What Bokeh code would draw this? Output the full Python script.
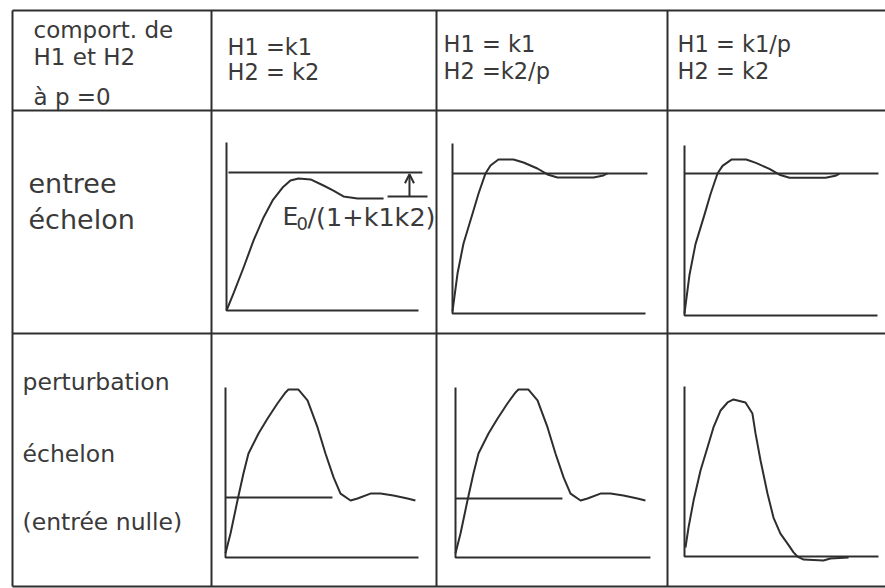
from bokeh.plotting import figure
from bokeh.models import Range1d, Arrow, OpenHead
from bokeh.embed import file_html
from bokeh.resources import INLINE
from bokeh.core.properties import value

# ---------------- texts ----------------
corner_lines = ["comport.  de", "H1  et H2", "à p =0"]
col_headers = [["H1 =k1", "H2 = k2"], ["H1 = k1", "H2 =k2/p"], ["H1 = k1/p", "H2 = k2"]]
row1_label = ["entree", "échelon"]
row2_label = ["perturbation", "échelon", "(entrée nulle)"]
annot_parts = ["E", "0", "/(1+k1k2)"]

# ---------------- curves ----------------
# time measured on 0..10 of each time axis, amplitude on 0..10 of each vertical axis
# row 1 : step input, H1=k1, H2=k2 (static error)
r1c1_t = [0, 0.36, 0.89, 1.41, 1.93, 2.40, 2.92, 3.33, 3.75, 4.38, 5.05, 5.57, 6.09, 6.82, 8.18]
r1c1_y = [0, 1.01, 2.56, 4.17, 5.54, 6.55, 7.32, 7.74, 7.86, 7.80, 7.44, 7.14, 6.79, 6.67, 6.67]
r1c1_ref = 8.21
r1c1_final = 6.79
# row 1 : step input, H1=k1, H2=k2/p
r1c2_t = [0, 0.26, 0.57, 1.04, 1.35, 1.71, 1.97, 2.38, 3.16, 3.68, 4.40, 4.92, 5.44, 7.31, 7.82, 8.03]
r1c2_y = [0.12, 2.35, 4.12, 5.88, 7.06, 8.24, 8.71, 9.06, 9.06, 8.88, 8.53, 8.18, 8.00, 8.00, 8.12, 8.24]
r1c2_ref = 8.24
# row 1 : step input, H1=k1/p, H2=k2
r1c3_t = [0, 0.26, 0.57, 1.04, 1.35, 1.71, 1.97, 2.45, 3.20, 3.70, 4.40, 4.92, 5.44, 7.31, 7.82, 8.03]
r1c3_y = [0.12, 2.40, 4.20, 5.95, 7.15, 8.35, 8.80, 9.18, 9.18, 8.98, 8.62, 8.28, 8.10, 8.10, 8.22, 8.35]
r1c3_ref = 8.35
# row 2 : step disturbance, zero input
r2c1_t = [0, 0.26, 0.62, 0.93, 1.19, 1.71, 2.18, 2.69, 3.11, 3.26, 3.78, 4.25, 4.77, 5.18, 5.60,
          5.96, 6.48, 6.84, 7.51, 8.03, 8.70, 9.43, 9.84]
r2c1_y = [0.25, 1.41, 3.35, 4.94, 6.12, 7.29, 8.18, 9.06, 9.71, 9.88, 9.88, 9.24, 7.65, 6.12, 4.71,
          3.76, 3.35, 3.47, 3.76, 3.76, 3.65, 3.47, 3.35]
r2c1_ref = 3.53
r2c2_t = [0, 0.26, 0.62, 0.93, 1.19, 1.71, 2.18, 2.69, 3.11, 3.26, 3.78, 4.25, 4.77, 5.18, 5.60,
          5.96, 6.48, 6.84, 7.51, 8.03, 8.70, 9.43, 9.84]
r2c2_y = [0.25, 1.41, 3.35, 4.94, 6.12, 7.29, 8.18, 9.06, 9.71, 9.88, 9.88, 9.24, 7.65, 6.12, 4.71,
          3.76, 3.35, 3.47, 3.76, 3.76, 3.65, 3.47, 3.35]
r2c2_ref = 3.47
r2c3_t = [0.05, 0.21, 0.47, 0.83, 1.19, 1.50, 1.87, 2.23, 2.54, 3.16, 3.52, 3.68, 3.94, 4.30, 4.61,
          4.97, 5.34, 5.65, 5.85, 6.17, 7.20, 7.56, 8.50]
r2c3_y = [0.53, 1.71, 3.29, 5.06, 6.41, 7.59, 8.59, 9.06, 9.24, 9.06, 8.41, 7.24, 5.65, 3.71, 2.29,
          1.35, 0.76, 0.24, 0.00, -0.18, -0.24, -0.12, -0.06]

# ---------------- layout ----------------
W, H = 885, 588
INK = "#2e2e2e"
TXT = "#3a3a3a"
FONT = value("DejaVu Sans")
DY = -7  # baseline correction for text placement

col_x = [12, 211, 436, 667, 890]
row_y = [10, 110, 333, 586]

# axis box of each small chart: origin x, origin y, width, height (pixels)
box = {
    "r1c1": (226, 310, 192, 168),
    "r1c2": (452, 313, 193, 170),
    "r1c3": (684, 315, 193, 170),
    "r2c1": (225, 557, 193, 170),
    "r2c2": (455, 557, 193, 170),
    "r2c3": (684, 556, 193, 170),
}
xaxis_len = {"r1c1": 10.0, "r1c2": 10.0, "r1c3": 10.0, "r2c1": 10.0, "r2c2": 10.1, "r2c3": 10.05}
ref_len = {"r1c1": (0.1, 10.2), "r1c2": (0, 10.1), "r1c3": (0, 10.05),
           "r2c1": (0, 5.54), "r2c2": (0, 5.54)}


def px(cell, t, y):
    x0, y0, w, h = box[cell]
    return [x0 + ti * w / 10 for ti in t], [y0 - yi * h / 10 for yi in y]


def ty(vals):
    return [v + DY for v in vals]


p = figure(width=W, height=H, x_range=Range1d(0, W), y_range=Range1d(H, 0),
           output_backend="svg", toolbar_location=None, min_border=0, title=None,
           background_fill_color="white", border_fill_color="white")
p.axis.visible = False
p.grid.visible = False
p.outline_line_color = None

# table grid
for yy in row_y:
    p.line([col_x[0], col_x[-1]], [yy, yy], line_color=INK, line_width=2)
for xx in col_x[:-1]:
    p.line([xx, xx], [row_y[0], row_y[-1]], line_color=INK, line_width=2)

# small chart axes
for cell in box:
    xs, ys = px(cell, [0, 0, xaxis_len[cell]], [10, 0, 0])
    p.line(xs, ys, line_color=INK, line_width=2)

# reference (input) levels
refs = {"r1c1": r1c1_ref, "r1c2": r1c2_ref, "r1c3": r1c3_ref, "r2c1": r2c1_ref, "r2c2": r2c2_ref}
for cell, lvl in refs.items():
    a, b = ref_len[cell]
    xs, ys = px(cell, [a, b], [lvl, lvl])
    p.line(xs, ys, line_color=INK, line_width=2)

# responses
curves = {"r1c1": (r1c1_t, r1c1_y), "r1c2": (r1c2_t, r1c2_y), "r1c3": (r1c3_t, r1c3_y),
          "r2c1": (r2c1_t, r2c1_y), "r2c2": (r2c2_t, r2c2_y), "r2c3": (r2c3_t, r2c3_y)}
for cell, (t, y) in curves.items():
    xs, ys = px(cell, t, y)
    p.line(xs, ys, line_color=INK, line_width=2, line_join="round")

# final value line + static error arrow
xs, ys = px("r1c1", [8.39, 10.47], [r1c1_final, r1c1_final])
p.line(xs, ys, line_color=INK, line_width=2)
ax, ay = px("r1c1", [9.53, 9.53], [r1c1_final, r1c1_ref - 0.1])
p.add_layout(Arrow(end=OpenHead(size=9, line_width=2, line_color=INK),
                   x_start=ax[0], y_start=ay[0], x_end=ax[1], y_end=ay[1],
                   line_color=INK, line_width=2))

# annotation E0/(1+k1k2)
p.text(x=[282], y=ty([223]), text=[annot_parts[0]], text_font=FONT, text_font_size=value("25px"),
       text_color=TXT, text_baseline="alphabetic", text_align="left")
p.text(x=[296], y=ty([230]), text=[annot_parts[1]], text_font=FONT, text_font_size=value("18px"),
       text_color=TXT, text_baseline="alphabetic", text_align="left")
p.text(x=[307], y=ty([223]), text=[annot_parts[2]], text_font=FONT, text_font_size=value("25.5px"),
       text_color=TXT, text_baseline="alphabetic", text_align="left")

# header texts
p.text(x=[33, 33, 33], y=ty([36, 63, 103]), text=corner_lines, text_font=FONT,
       text_font_size=value("23px"), text_color=TXT, text_baseline="alphabetic")
hx = [227, 443, 677]
hy = [[53, 78], [50, 77], [50, 77]]
for i in range(3):
    p.text(x=[hx[i], hx[i]], y=ty(hy[i]), text=col_headers[i], text_font=FONT,
           text_font_size=value("22.5px"), text_color=TXT, text_baseline="alphabetic")

# row labels
p.text(x=[28, 28], y=ty([190, 226]), text=row1_label, text_font=FONT,
       text_font_size=value("27px"), text_color=TXT, text_baseline="alphabetic")
p.text(x=[22, 22, 22], y=ty([388, 460, 528]), text=row2_label, text_font=FONT,
       text_font_size=value("23.5px"), text_color=TXT, text_baseline="alphabetic")

open("out.html", "w").write(file_html(p, INLINE))
